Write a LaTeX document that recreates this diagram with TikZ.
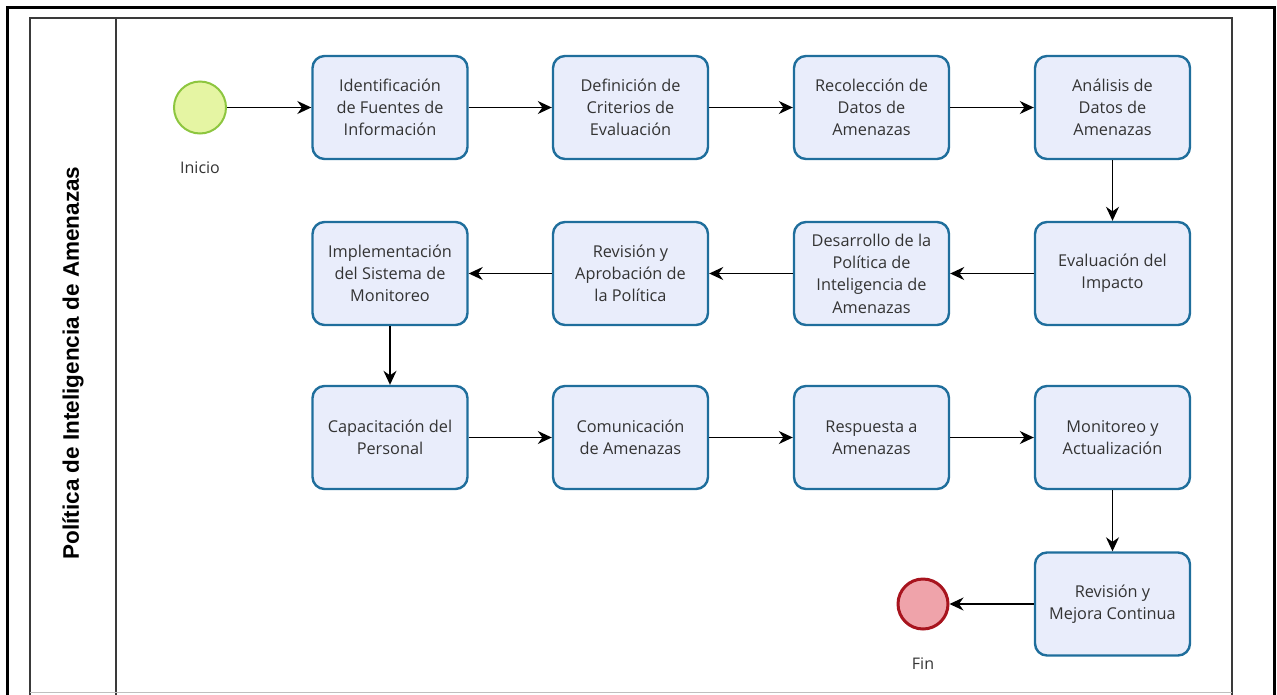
\documentclass[tikz,border=0pt]{standalone}
\usepackage{fontspec}
\setmainfont{Open Sans}
\newfontfamily\poolfont{Liberation Sans}
\usetikzlibrary{arrows.meta}
\definecolor{taskfill}{HTML}{E9EDFB}
\definecolor{taskdraw}{HTML}{1F6E9C}
\definecolor{startfill}{HTML}{E5F5A3}
\definecolor{startdraw}{HTML}{8DC63F}
\definecolor{endfill}{HTML}{EFA3AA}
\definecolor{enddraw}{HTML}{A8141E}
\definecolor{txt}{HTML}{333333}
\definecolor{poolline}{HTML}{3A3A3A}
\begin{document}
\begin{tikzpicture}[x=1pt,y=-1pt,
  task/.style={draw=taskdraw, fill=taskfill, line width=2.4pt, rounded corners=12pt,
    minimum width=155pt, minimum height=103pt, align=center, text=txt,
    font=\fontsize{16.3}{22.3}\selectfont, inner sep=0pt},
  event/.style={circle, minimum size=#1, inner sep=0pt},
  evlabel/.style={text=txt, font=\fontsize{16}{18}\selectfont},
  flow/.style={-{Stealth[length=14pt,width=13pt]}, line width=1.4pt, black}]
\useasboundingbox (0,0) rectangle (1277,694);

% outer frame and pool
\draw[line width=3pt] (7,700) -- (7,7) -- (1274,7) -- (1274,700);
\draw[line width=1.3pt, poolline] (30,700) -- (30,18) -- (1232,18) -- (1232,700);
\draw[line width=1.3pt, poolline] (116,18) -- (116,700);
\draw[line width=1pt, black!25] (30,692) -- (1232,692);
\node[rotate=90, font=\poolfont\bfseries\fontsize{22.5}{26}\selectfont] (pool) at (73,363)
  {Política de Inteligencia de Amenazas};

% events
\node[event=52pt, draw=startdraw, fill=startfill, line width=2pt] (start) at (200,107.5) {};
\node[evlabel] (startlbl) at (200,168) {Inicio};
\node[event=50pt, draw=enddraw, fill=endfill, line width=3pt] (end) at (923,604) {};
\node[evlabel] (endlbl) at (923,664) {Fin};

% tasks
\node[task] (t1) at (390,107.5) {Identificación\\de Fuentes de\\Información};
\node[task] (t2) at (630.5,107.5) {Definición de\\Criterios de\\Evaluación};
\node[task] (t3) at (871.5,107.5) {Recolección de\\Datos de\\Amenazas};
\node[task] (t4) at (1112.5,107.5) {Análisis de\\Datos de\\Amenazas};
\node[task] (t5) at (1112.5,273.5) {Evaluación del\\Impacto};
\node[task] (t6) at (871.5,273.5) {Desarrollo de la\\Política de\\Inteligencia de\\Amenazas};
\node[task] (t7) at (630.5,273.5) {Revisión y\\Aprobación de\\la Política};
\node[task] (t8) at (390,273.5) {Implementación\\del Sistema de\\Monitoreo};
\node[task] (t9) at (390,437.5) {Capacitación del\\Personal};
\node[task] (t10) at (630.5,437.5) {Comunicación\\de Amenazas};
\node[task] (t11) at (871.5,437.5) {Respuesta a\\Amenazas};
\node[task] (t12) at (1112.5,437.5) {Monitoreo y\\Actualización};
\node[task] (t13) at (1112.5,604) {Revisión y\\Mejora Continua};

% sequence flows
\draw[flow] (start) -- (t1);
\draw[flow] (t1) -- (t2);
\draw[flow] (t2) -- (t3);
\draw[flow] (t3) -- (t4);
\draw[flow] (t4) -- (t5);
\draw[flow] (t5) -- (t6);
\draw[flow] (t6) -- (t7);
\draw[flow] (t7) -- (t8);
\draw[flow] (t8) -- (t9);
\draw[flow] (t9) -- (t10);
\draw[flow] (t10) -- (t11);
\draw[flow] (t11) -- (t12);
\draw[flow] (t12) -- (t13);
\draw[flow] (t13) -- (end);
\end{tikzpicture}
\end{document}
